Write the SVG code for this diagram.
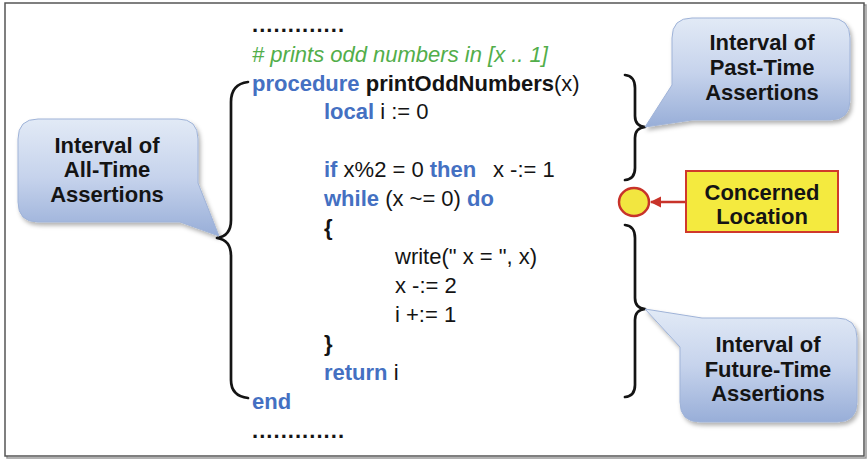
<svg xmlns="http://www.w3.org/2000/svg" width="868" height="461" viewBox="0 0 868 461">
<style>
.code{font-family:"Liberation Sans",Arial,sans-serif;font-size:22px;fill:#141414}
.kw{fill:#4470c2;font-weight:bold}
.b{font-weight:bold}
.cm{fill:#52ae4a;font-style:italic}
.lbl{font-family:"Liberation Sans",Arial,sans-serif;font-size:22px;font-weight:bold;fill:#141414;text-anchor:middle}
.brace{fill:none;stroke:#141414;stroke-width:2.7;stroke-linecap:round;stroke-linejoin:round}
.bubble{fill:url(#bg);stroke:#9fb3d8;stroke-width:1;filter:url(#sh)}
</style>
<defs>
<linearGradient id="bg" x1="0" y1="0" x2="0" y2="1">
<stop offset="0" stop-color="#e2eaf6"/>
<stop offset="0.5" stop-color="#c6d3ec"/>
<stop offset="1" stop-color="#98aed8"/>
</linearGradient>
<filter id="sh" x="-10%" y="-10%" width="125%" height="130%">
<feDropShadow dx="2" dy="3" stdDeviation="2" flood-color="#000" flood-opacity="0.3"/>
</filter>
<marker id="ah" viewBox="0 0 10 10" refX="9" refY="5" markerWidth="4.5" markerHeight="4.5" orient="auto">
<path d="M0,0 L10,5 L0,10 Z" fill="#c8332a"/>
</marker>
</defs>
<rect x="0" y="0" width="868" height="461" fill="#fff"/>
<rect x="7" y="5" width="859" height="453" fill="none" stroke="#999" stroke-width="1.5"/>
<rect x="5" y="3" width="859" height="453" fill="#fff" stroke="#555" stroke-width="1.5"/>

<g id="code" class="code">
<text x="252" y="32" class="b" textLength="92" lengthAdjust="spacing">.............</text>
<text x="252" y="62" class="cm"># prints odd numbers in [x .. 1]</text>
<text x="252" y="91"><tspan class="kw">procedure</tspan> <tspan class="b">printOddNumbers</tspan>(x)</text>
<text x="324" y="119"><tspan class="kw">local</tspan> i := 0</text>
<text x="324" y="177"><tspan class="kw">if</tspan> x%2 = 0 <tspan class="kw">then</tspan></text>
<text x="493" y="177">x -:= 1</text>
<text x="324" y="206"><tspan class="kw">while</tspan> (x ~= 0) <tspan class="kw">do</tspan></text>
<text x="324" y="235" class="b">{</text>
<text x="395" y="264">write(" x = ", x)</text>
<text x="395" y="293">x -:= 2</text>
<text x="395" y="322">i +:= 1</text>
<text x="324" y="351" class="b">}</text>
<text x="324" y="380"><tspan class="kw">return</tspan> i</text>
<text x="252" y="409" class="kw">end</text>
<text x="252" y="438" class="b" textLength="92" lengthAdjust="spacing">.............</text>
</g>

<g id="connectors">
<path class="brace" d="M248,82 Q231,84 231,102 V220 Q231,236 217,238 Q231,240 231,256 V380 Q231,396 248,398"/>
<path class="brace" d="M625,75 Q635,76 635,88 V116 Q635,126 645,127 Q635,128 635,138 V168 Q635,179 625,180"/>
<path class="brace" d="M625,225 Q635,226 635,238 V298 Q635,308 645,309 Q635,310 635,320 V385 Q635,396 625,397"/>
<line x1="686" y1="202" x2="651" y2="202" stroke="#c8332a" stroke-width="2.5" marker-end="url(#ah)"/>
</g>

<g id="all-time">
<path class="bubble" d="M38,119 H178 Q198,119 198,139 V183 L219,236 L180,222 H38 Q18,222 18,202 V139 Q18,119 38,119 Z"/>
<text class="lbl" x="107" y="153">Interval of</text>
<text class="lbl" x="107" y="177">All-Time</text>
<text class="lbl" x="107" y="202">Assertions</text>
</g>

<g id="past-time">
<path class="bubble" d="M692,18 H830 Q850,18 850,38 V100 Q850,120 830,120 H692 L645,127 L672,85 V38 Q672,18 692,18 Z"/>
<text class="lbl" x="762" y="50">Interval of</text>
<text class="lbl" x="762" y="75">Past-Time</text>
<text class="lbl" x="762" y="100">Assertions</text>
</g>

<g id="future-time">
<path class="bubble" d="M702,318 H837 Q857,318 857,338 V402 Q857,422 837,422 H700 Q680,422 680,402 V347 L645,309 Z"/>
<text class="lbl" x="768" y="352">Interval of</text>
<text class="lbl" x="768" y="377">Future-Time</text>
<text class="lbl" x="768" y="401">Assertions</text>
</g>

<g id="location">
<ellipse cx="634" cy="202" rx="15" ry="14" fill="#f2e640" stroke="#c8332a" stroke-width="2.5"/>
</g>

<g id="concerned">
<rect x="686" y="171" width="152" height="61" fill="#f4ea3f" stroke="#d0392b" stroke-width="2"/>
<text class="lbl" x="762" y="200">Concerned</text>
<text class="lbl" x="762" y="224">Location</text>
</g>
</svg>
